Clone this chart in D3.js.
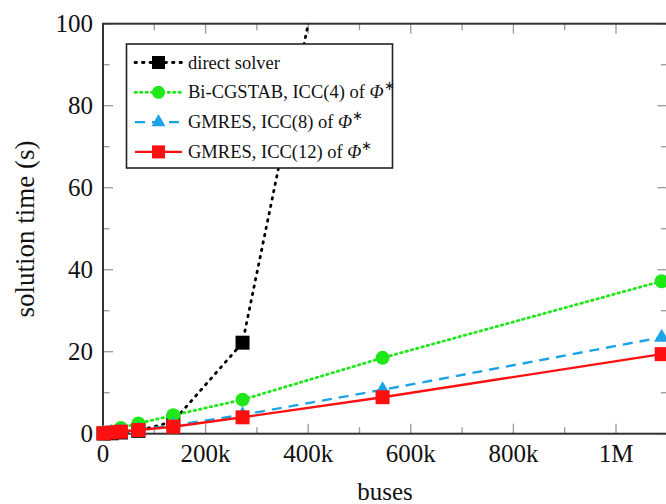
<!DOCTYPE html>
<html><head><meta charset="utf-8">
<script src="https://cdn.jsdelivr.net/npm/d3@7"></script>
<style>body{margin:0;background:#fff}svg{display:block}</style>
</head><body>
<svg id="c" width="666" height="504"></svg>
<script>
const buses = [1000, 17000, 35000, 69000, 137000, 272000, 545000, 1089000];
const directSolver = [0.05, 0.1, 0.3, 0.7, 3.0, 22.2, 188];
const bicgstab4 = [0.1, 0.5, 1.4, 2.5, 4.5, 8.3, 18.5, 37.2];
const gmres8 = [0.1, 0.3, 0.6, 1.0, 2.0, 4.6, 10.7, 23.5];
const gmres12 = [0.1, 0.3, 0.5, 0.9, 1.7, 4.0, 8.9, 19.4];
const xTicks = [0, 200000, 400000, 600000, 800000, 1000000];
const xTickLabels = ["0", "200k", "400k", "600k", "800k", "1M"];
const xMinor = [100000, 300000, 500000, 700000, 900000, 1100000];
const yTicks = [0, 20, 40, 60, 80, 100];
const yMinor = [10, 30, 50, 70, 90];
const seriesNames = ["direct solver", "Bi-CGSTAB, ICC(4) of ", "GMRES, ICC(8) of ", "GMRES, ICC(12) of "];

const FONT = "'Liberation Serif', 'Times New Roman', Times, serif";
const svg = d3.select("#c");
const L = 103, R = 667.3, T = 23.7, B = 433.7;
const x = d3.scaleLinear().domain([0, 1100000]).range([L, R]);
const y = d3.scaleLinear().domain([0, 100]).range([B, T]);

const series = [
  {name: seriesNames[0], vals: directSolver, color: "#000", dash: "1.5,6", width: 2.8, cap: "round", mark: "square"},
  {name: seriesNames[1], vals: bicgstab4, color: "#1ee818", dash: "1.5,4", width: 2.8, cap: "round", mark: "circle", phi: true},
  {name: seriesNames[2], vals: gmres8, color: "#1ba3e6", dash: "10,7", width: 2.4, cap: "butt", mark: "triangle", phi: true},
  {name: seriesNames[3], vals: gmres12, color: "#ff1010", dash: null, width: 2.4, cap: "butt", mark: "square", phi: true}
];

svg.append("defs").append("clipPath").attr("id", "plot")
  .append("rect").attr("x", L).attr("y", T).attr("width", R - L).attr("height", B - T);

const tg = svg.append("g").attr("stroke", "#999").attr("stroke-width", 1.3);
xTicks.forEach(v => {
  tg.append("line").attr("x1", x(v)).attr("x2", x(v)).attr("y1", B).attr("y2", B - 10);
  tg.append("line").attr("x1", x(v)).attr("x2", x(v)).attr("y1", T).attr("y2", T + 10);
});
xMinor.forEach(v => {
  tg.append("line").attr("x1", x(v)).attr("x2", x(v)).attr("y1", B).attr("y2", B - 6.5);
  tg.append("line").attr("x1", x(v)).attr("x2", x(v)).attr("y1", T).attr("y2", T + 6.5);
});
yTicks.forEach(v => {
  tg.append("line").attr("x1", L).attr("x2", L + 10).attr("y1", y(v)).attr("y2", y(v));
  tg.append("line").attr("x1", R).attr("x2", R - 10).attr("y1", y(v)).attr("y2", y(v));
});
yMinor.forEach(v => {
  tg.append("line").attr("x1", L).attr("x2", L + 6.5).attr("y1", y(v)).attr("y2", y(v));
  tg.append("line").attr("x1", R).attr("x2", R - 6.5).attr("y1", y(v)).attr("y2", y(v));
});

svg.append("rect").attr("x", L).attr("y", T).attr("width", R - L).attr("height", B - T)
  .attr("fill", "none").attr("stroke", "#333").attr("stroke-width", 2);

const txt = (sel) => sel.attr("font-family", FONT).attr("fill", "#111");

xTicks.forEach((v, i) => {
  svg.append("text").call(txt).attr("x", x(v)).attr("y", 462).attr("text-anchor", "middle")
    .attr("font-size", 25).text(xTickLabels[i]);
});
yTicks.forEach(v => {
  svg.append("text").call(txt).attr("x", 93).attr("y", y(v) + 8.5).attr("text-anchor", "end")
    .attr("font-size", 25).text(String(v));
});

svg.append("text").call(txt).attr("x", 385).attr("y", 500).attr("text-anchor", "middle").attr("font-size", 25).text("buses");
svg.append("text").call(txt).attr("transform", "translate(34,229) rotate(-90)").attr("text-anchor", "middle")
  .attr("font-size", 27).text("solution time (s)");

function drawMark(g, m, cx, cy, color, s) {
  if (m === "square") {
    g.append("rect").attr("x", cx - s / 2).attr("y", cy - s / 2).attr("width", s).attr("height", s).attr("fill", color);
  } else if (m === "circle") {
    g.append("circle").attr("cx", cx).attr("cy", cy).attr("r", s / 2).attr("fill", color);
  } else {
    const r = s * 0.62;
    const pts = [[cx, cy - r], [cx + r * 0.866, cy + r * 0.5], [cx - r * 0.866, cy + r * 0.5]];
    g.append("path").attr("d", "M" + pts.map(p => p.join(",")).join("L") + "Z").attr("fill", color);
  }
}

const line = d3.line().x((d, i) => x(buses[i])).y(d => y(d));
series.forEach(s => {
  svg.append("path").attr("d", line(s.vals)).attr("clip-path", "url(#plot)")
    .attr("fill", "none").attr("stroke", s.color).attr("stroke-width", s.width)
    .attr("stroke-dasharray", s.dash).attr("stroke-linecap", s.cap);
  const g = svg.append("g");
  s.vals.forEach((v, i) => {
    if (v <= 100) drawMark(g, s.mark, x(buses[i]), y(v), s.color, 14);
  });
});

const lg = svg.append("g");
lg.append("rect").attr("x", 126.5).attr("y", 44).attr("width", 266).attr("height", 124)
  .attr("fill", "#fff").attr("stroke", "#222").attr("stroke-width", 1.6);
series.forEach((s, i) => {
  const ly = 62.5 + i * 29.8;
  lg.append("line").attr("x1", 135).attr("x2", 182).attr("y1", ly).attr("y2", ly)
    .attr("stroke", s.color).attr("stroke-width", s.width).attr("stroke-dasharray", s.dash)
    .attr("stroke-linecap", s.cap);
  drawMark(lg, s.mark, 158.5, ly, s.color, 13);
  const t = lg.append("text").call(txt).attr("x", 188).attr("y", ly + 6).attr("font-size", 18.5).text(s.name);
  if (s.phi) {
    t.append("tspan").attr("font-style", "italic").text("Φ");
    t.append("tspan").attr("font-size", 13).attr("dy", -8).text("∗");
  }
});
</script>
</body></html>
